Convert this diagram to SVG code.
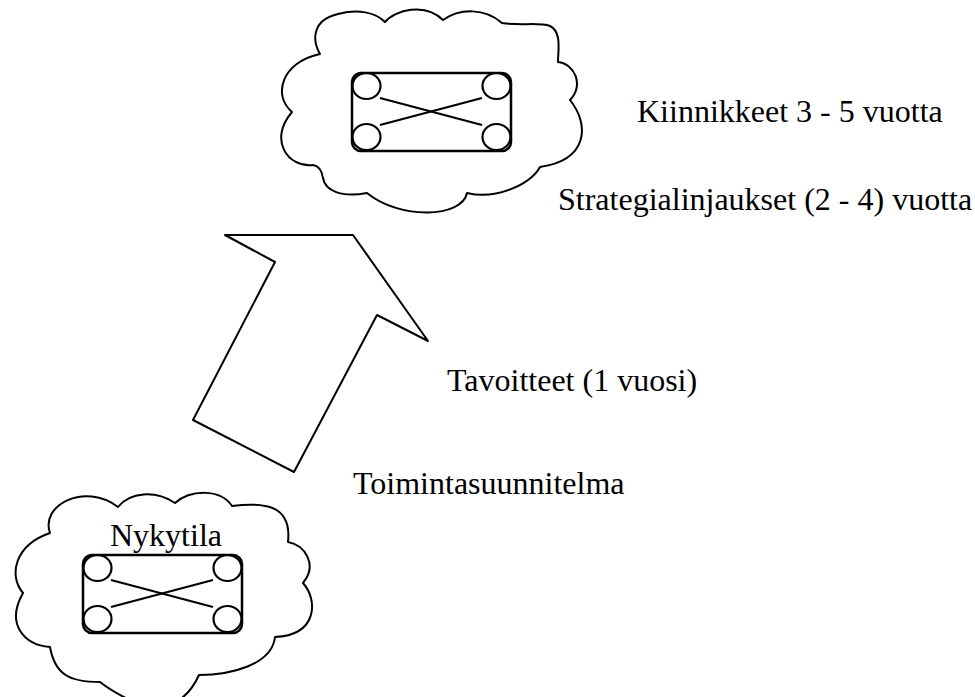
<svg xmlns="http://www.w3.org/2000/svg" width="975" height="697" viewBox="0 0 975 697">
  <style>
    .outline { fill: none; stroke: #000; stroke-width: 2; stroke-linejoin: round; stroke-linecap: round; }
    .frame { fill: none; stroke: #000; stroke-width: 2.5; }
    .link { stroke: #000; stroke-width: 2.2; fill: none; }
    .label { font-family: "Liberation Serif", "Times New Roman", serif; font-size: 32px; fill: #000; }
  </style>
  <defs>
    <!-- small network: rounded frame, four corner nodes, crossing links -->
    <g id="network">
      <rect class="frame" x="0" y="0" width="159" height="78" rx="9"/>
      <ellipse class="link" cx="14.5" cy="13" rx="14" ry="13"/>
      <ellipse class="link" cx="144.5" cy="13" rx="14" ry="13"/>
      <ellipse class="link" cx="14.5" cy="64" rx="14" ry="13"/>
      <ellipse class="link" cx="144.5" cy="64" rx="14" ry="13"/>
      <line class="link" x1="28" y1="25" x2="130" y2="52"/>
      <line class="link" x1="28" y1="52" x2="130" y2="25"/>
    </g>
  </defs>

  <!-- target state cloud -->
  <g id="target">
    <path class="outline" d="M320,54 C312,40 312,20 338,14 C358,9 375,12 385,22
      C395,10 425,2 443,20 C460,8 485,8 502,23
      C520,26 540,22 550,26 C562,32 558,50 558,62
      C575,64 584,85 570,100 C590,125 588,160 540,167
      C530,185 495,200 467,193 C462,218 400,220 367,193
      C340,198 325,190 323,178 C322,170 318,166 313,165
      C288,168 268,140 292,112 C272,95 282,62 320,54 Z"/>
    <use href="#network" x="352" y="73"/>
  </g>

  <!-- current state cloud -->
  <g id="current">
    <path class="outline" d="M50,533 C40,505 85,482 118,507
      C130,492 155,490 175,503 C190,490 220,488 232,506
      C265,502 292,505 288,542 C305,545 318,565 303,583
      C318,600 318,635 275,637 C272,665 230,675 199,675
      C190,695 170,715 140,705 C125,698 110,690 100,682
      C70,682 55,675 50,647 C25,645 5,625 23,593
      C8,575 15,545 50,533 Z"/>
    <use href="#network" x="83" y="555"/>
    <text class="label" x="110" y="546">Nykytila</text>
  </g>

  <!-- big arrow from current state towards target -->
  <g id="connectors">
    <polygon class="outline" points="225,235 353,235 428,341 377,315 294,472 193,420 275,262"/>
  </g>

  <g id="labels">
    <text class="label" x="637" y="122">Kiinnikkeet 3 - 5 vuotta</text>
    <text class="label" x="558" y="210">Strategialinjaukset (2 - 4) vuotta</text>
    <text class="label" x="447" y="391">Tavoitteet (1 vuosi)</text>
    <text class="label" x="353" y="494">Toimintasuunnitelma</text>
  </g>
</svg>
